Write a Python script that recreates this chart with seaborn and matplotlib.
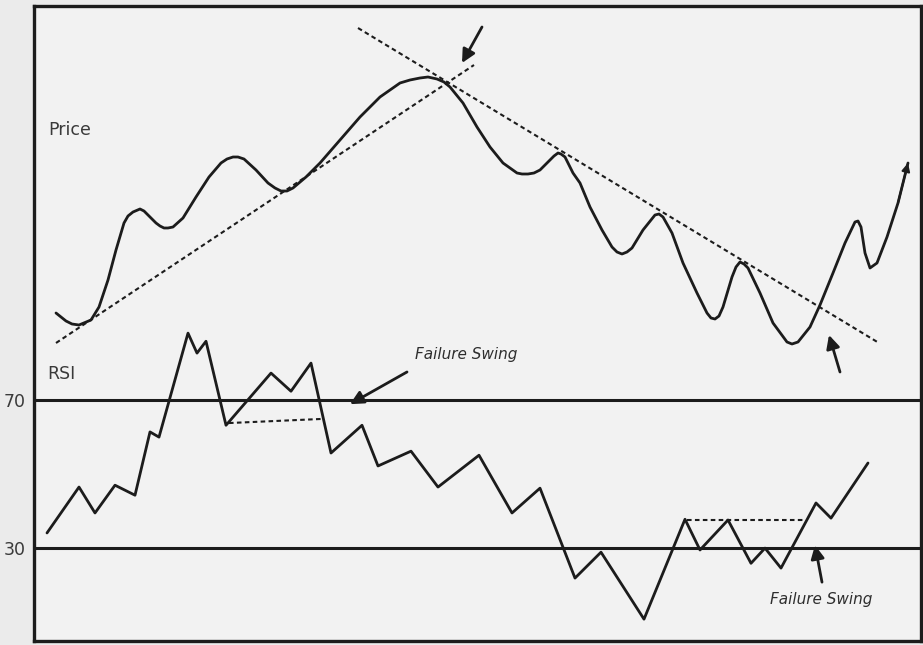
import numpy as np
import pandas as pd
import seaborn as sns
import matplotlib
matplotlib.use("Agg")
import matplotlib.pyplot as plt

# price curve (time index, price)
price_x = [4.4, 6.4, 7.6, 9.0, 11.4, 13.0, 14.8, 16.4, 18.0, 18.8, 19.8, 21.2, 22.0, 22.8,
           23.6, 24.4, 25.2, 26.0, 26.8, 27.8, 29.8, 32.4, 35.0, 37.4, 38.6, 39.8, 40.8, 42.0,
           44.4, 46.8, 48.2, 49.4, 50.6, 51.8, 54.4, 57.2, 61.2, 65.2, 69.2, 73.2, 75.2, 77.2,
           78.8, 80.6, 82.0, 83.2, 85.8, 88.6, 91.2, 93.8, 96.6, 97.6, 98.8, 100.0, 101.2, 103.2,
           104.0, 104.8, 105.4, 106.2, 107.8, 109.2, 111.2, 113.6, 115.6, 116.6, 117.6, 118.6,
           119.6, 121.8, 124.2, 125.0, 125.8, 127.6, 129.8, 132.6, 134.6, 135.4, 136.2, 137.0,
           137.8, 139.6, 140.4, 141.2, 142.0, 142.8, 145.2, 147.8, 150.6, 151.6, 152.8, 155.2,
           157.2, 159.8, 162.2, 164.2, 164.8, 165.4, 166.2, 167.2, 168.6, 170.6, 172.8, 174.8]
price_y = [65.6, 64.0, 63.4, 63.2, 64.2, 66.8, 72.2, 78.2, 83.6, 85.0, 85.8, 86.4, 86.0, 85.2,
           84.4, 83.6, 83.0, 82.6, 82.6, 82.8, 84.6, 88.8, 92.8, 95.6, 96.4, 96.8, 96.8, 96.4,
           94.2, 91.6, 90.6, 90.0, 90.0, 90.6, 92.8, 95.6, 100.2, 104.8, 108.8, 111.6, 112.2, 112.6,
           112.8, 112.4, 111.8, 110.8, 107.6, 102.8, 98.8, 95.6, 93.6, 93.4, 93.4, 93.6, 94.2, 96.2,
           97.0, 97.6, 97.4, 96.8, 93.6, 91.6, 86.8, 82.2, 78.8, 77.8, 77.4, 77.8,
           78.6, 82.2, 85.2, 85.4, 84.8, 81.6, 75.6, 69.6, 65.6, 64.6, 64.4, 65.0,
           66.8, 72.8, 74.8, 75.8, 75.4, 74.6, 69.6, 63.6, 59.8, 59.4, 59.8, 62.8,
           67.2, 73.6, 79.6, 83.8, 84.0, 82.8, 77.6, 74.6, 75.6, 80.8, 87.6, 95.6]

# RSI zig-zag
rsi_x = [2.6, 9.0, 12.2, 16.2, 20.2, 23.2, 25.0, 30.8, 32.6, 34.4, 38.4, 47.4, 51.4, 55.4,
         59.4, 65.6, 68.8, 75.4, 80.8, 89.0, 95.6, 101.2, 108.2, 113.4, 122.0, 130.2, 133.2,
         138.8, 143.4, 146.2, 149.4, 156.4, 159.4, 166.8]
rsi_y = [34.1, 46.5, 39.5, 47.0, 44.3, 61.4, 60.0, 88.1, 82.7, 85.9, 63.2, 77.3, 72.4, 80.0,
         55.7, 63.2, 52.2, 56.2, 46.5, 55.1, 39.5, 46.2, 21.9, 28.9, 10.8, 37.8, 29.5,
         37.6, 25.9, 30.0, 24.6, 42.2, 38.1, 53.0]

# trendlines on price (x pairs, y pairs)
up_x, up_y = [4.4, 88.0], [59.6, 115.2]
down_x, down_y = [64.8, 169.0], [122.6, 59.6]

# failure swing reference lines on RSI
swing1_x, swing1_y = [39.0, 57.4], [63.8, 64.9]
swing2_x, swing2_y = [130.6, 154.2], [37.6, 37.6]

rsi_levels = [70, 30]

price_df = pd.DataFrame({"t": price_x, "price": price_y})
rsi_df = pd.DataFrame({"t": rsi_x, "rsi": rsi_y})

sns.set_theme(style="white")
plt.rcParams["font.family"] = ["DejaVu Sans"]

ink = "#1c1c1c"
fig = plt.figure(figsize=(9.23, 6.45), dpi=100)
fig.patch.set_facecolor("#ebebeb")
rect = [34 / 923, 4 / 645, 887 / 923, 635 / 645]
ax = fig.add_axes(rect)
ax2 = fig.add_axes(rect)
ax.set_facecolor("#f2f2f2")
ax2.set_facecolor("none")

# price panel
sns.lineplot(data=price_df, x="t", y="price", ax=ax, sort=False, estimator=None,
             color=ink, linewidth=2.0, solid_joinstyle="round", solid_capstyle="round")
ax.annotate("", xy=(price_x[-1], price_y[-1]), xytext=(price_x[-2], price_y[-2]),
            arrowprops=dict(arrowstyle="-|>", color=ink, lw=1.5, mutation_scale=12,
                            shrinkA=0, shrinkB=0))
dots = (0, (2.2, 1.6))
ax.plot(up_x, up_y, color=ink, lw=1.5, linestyle=dots)
ax.plot(down_x, down_y, color=ink, lw=1.5, linestyle=dots)
ax.annotate("", xy=(85.6, 115.6), xytext=(89.6, 122.8),
            arrowprops=dict(arrowstyle="-|>", color=ink, lw=2, mutation_scale=20,
                            shrinkA=0, shrinkB=0))
ax.annotate("", xy=(159.0, 61.2), xytext=(161.2, 53.8),
            arrowprops=dict(arrowstyle="-|>", color=ink, lw=2, mutation_scale=20,
                            shrinkA=0, shrinkB=0))
ax.text(2.8, 102.2, "Price", fontsize=12.5, color="#3a3a3a", va="center", ha="left")
ax.set_xlim(0, 177.4)
ax.set_ylim(0, 127)
ax.set_xticks([])
ax.set_yticks([])
ax.set_xlabel("")
ax.set_ylabel("")
for s in ax.spines.values():
    s.set_visible(False)

# RSI panel
for lvl in rsi_levels:
    ax2.axhline(lvl, color=ink, lw=2.2)
sns.lineplot(data=rsi_df, x="t", y="rsi", ax=ax2, sort=False, estimator=None,
             color=ink, linewidth=2.0)
ax2.plot(swing1_x, swing1_y, color=ink, lw=1.5, linestyle=dots)
ax2.plot(swing2_x, swing2_y, color=ink, lw=1.5, linestyle=dots)
ax2.annotate("", xy=(63.2, 68.9), xytext=(74.6, 77.6),
             arrowprops=dict(arrowstyle="-|>", color=ink, lw=2, mutation_scale=20,
                             shrinkA=0, shrinkB=0))
ax2.annotate("", xy=(156.2, 30.8), xytext=(157.6, 20.8),
             arrowprops=dict(arrowstyle="-|>", color=ink, lw=2, mutation_scale=20,
                             shrinkA=0, shrinkB=0))
ax2.text(76.2, 82.2, "Failure Swing", fontsize=11, style="italic", color="#2e2e2e",
         va="center", ha="left")
ax2.text(147.2, 16.2, "Failure Swing", fontsize=11, style="italic", color="#2e2e2e",
         va="center", ha="left")
ax2.text(2.6, 77.0, "RSI", fontsize=12.5, color="#3a3a3a", va="center", ha="left")
ax2.set_xlim(0, 177.4)
ax2.set_ylim(4.9, 176.5)
ax2.set_xticks([])
ax2.set_yticks(rsi_levels)
ax2.set_yticklabels([str(v) for v in rsi_levels])
ax2.tick_params(axis="y", length=0, pad=6, labelsize=12.5, labelcolor="#3a3a3a")
ax2.set_xlabel("")
ax2.set_ylabel("")
for s in ax2.spines.values():
    s.set_color(ink)
    s.set_linewidth(2.4)

fig.savefig("out.png", dpi=100, facecolor=fig.get_facecolor())
